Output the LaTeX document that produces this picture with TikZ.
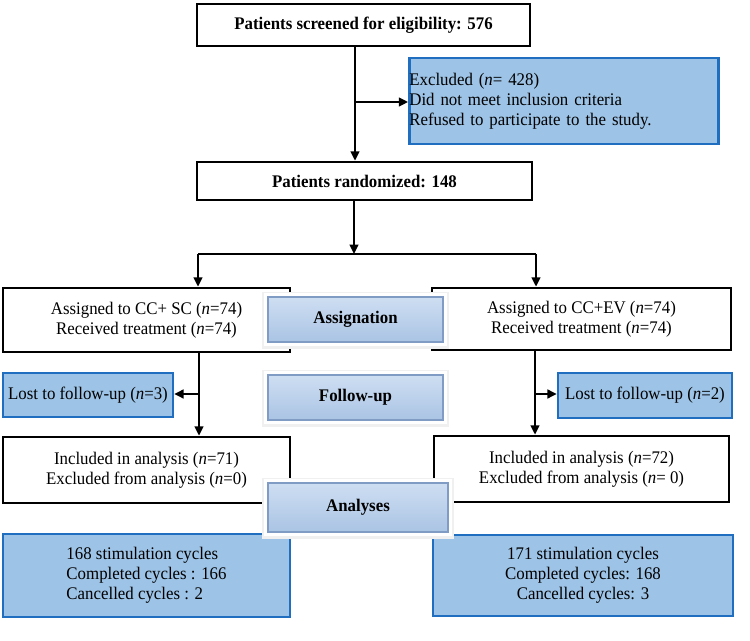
\documentclass[tikz,border=0pt]{standalone}
\usepackage{fontspec}
\setmainfont{Liberation Serif}[FakeStretch=0.95]
\usetikzlibrary{arrows.meta}
\definecolor{boxblue}{RGB}{157,195,230}
\definecolor{edgeblue}{RGB}{31,110,192}
\definecolor{tabtop}{RGB}{206,222,242}
\definecolor{tabbot}{RGB}{170,196,228}
\definecolor{tabedge}{RGB}{128,156,196}
\tikzset{
  patbox/.style={draw=black, line width=2pt, fill=white, inner sep=0pt, align=center},
  bluebox/.style={draw=edgeblue, line width=1.8pt, fill=boxblue, inner sep=0pt, align=center},
  stagetab/.style={draw=tabedge, line width=0.8pt, top color=tabtop, bottom color=tabbot,
    inner sep=0pt, font=\bfseries,
    preaction={draw=black!6, line width=9pt, transform canvas={yshift=-0.8pt}},
    preaction={draw=white, line width=6pt}},
  link/.style={line width=1.6pt},
  flow/.style={line width=1.6pt, -{Triangle[length=7pt,width=6.5pt]}},
}
\begin{document}
\fontsize{13.3}{15}\selectfont
\begin{tikzpicture}[x=0.75pt,y=-0.75pt]
\useasboundingbox (0,0) rectangle (750,641);
% screening
\node[patbox, font=\bfseries, minimum width=249.75pt, minimum height=31.5pt] (screen) at (363.5,25) {Patients screened for eligibility: 576};
\node[bluebox, align=left, text width=232pt, minimum height=64.5pt] (excl) at (564,101)
  {Excluded (\textit{n}= 428)\\Did not meet inclusion criteria\\Refused to participate to the study.};
\node[patbox, font=\bfseries, minimum width=251.25pt, minimum height=28.5pt] (rand) at (364.5,181) {Patients randomized: 148};
% arms
\node[patbox, minimum width=215.25pt, minimum height=48pt] (lassign) at (146.5,320)
  {Assigned to CC+ SC (\textit{n}=74)\\Received treatment (\textit{n}=74)};
\node[patbox, minimum width=224.25pt, minimum height=46.5pt] (rassign) at (581.5,319)
  {Assigned to CC+EV (\textit{n}=74)\\Received treatment (\textit{n}=74)};
\node[bluebox, minimum width=127.5pt, minimum height=33pt] (llost) at (88,395) {Lost to follow-up (\textit{n}=3)};
\node[bluebox, minimum width=130.5pt, minimum height=33.75pt] (rlost) at (645,395.5) {Lost to follow-up (\textit{n}=2)};
\node[patbox, minimum width=215.25pt, minimum height=49.5pt] (lincl) at (146.5,470)
  {Included in analysis (\textit{n}=71)\\Excluded from analysis (\textit{n}=0)};
\node[patbox, minimum width=221.25pt, minimum height=49.5pt] (rincl) at (581.5,469)
  {Included in analysis (\textit{n}=72)\\Excluded from analysis (\textit{n}= 0)};
\node[bluebox, align=left, minimum width=215.25pt, minimum height=62.25pt] (lcycles) at (146.5,575.5)
  {168 stimulation cycles\\Completed cycles : 166\\Cancelled cycles : 2};
\node[bluebox, minimum width=225pt, minimum height=60.75pt] (rcycles) at (583,575.5)
  {171 stimulation cycles\\Completed cycles: 168\\Cancelled cycles: 3};
% branch points
\coordinate (exclsplit) at (355,102);
\coordinate (armsplit) at (354,254);
\coordinate (lbranch) at (198,254);
\coordinate (rbranch) at (536,254);
\coordinate (lstem) at (199,394);
\coordinate (rstem) at (535,394);
% connectors
\draw[flow] (screen.south -| exclsplit) -- (rand.north -| exclsplit);
\draw[flow] (exclsplit) -- (exclsplit -| excl.west);
\draw[flow] (rand.south -| armsplit) -- (armsplit);
\draw[link] (lbranch) -- (rbranch);
\draw[flow] (lbranch) -- (lbranch |- lassign.north);
\draw[flow] (rbranch) -- (rbranch |- rassign.north);
\draw[flow] (lassign.south -| lstem) -- (lincl.north -| lstem);
\draw[flow] (rassign.south -| rstem) -- (rincl.north -| rstem);
\draw[flow] (lstem) -- (lstem -| llost.east);
\draw[flow] (rstem) -- (rstem -| rlost.west);
% stage tabs
\node[stagetab, minimum width=131.25pt, minimum height=33.75pt] (assigntab) at (355.5,319.5) {Assignation};
\node[stagetab, minimum width=131.25pt, minimum height=33.75pt] (followtab) at (355.5,397.5) {Follow-up};
\node[stagetab, minimum width=135pt, minimum height=36.75pt] (analysestab) at (358,507.5) {Analyses};
\end{tikzpicture}
\end{document}
